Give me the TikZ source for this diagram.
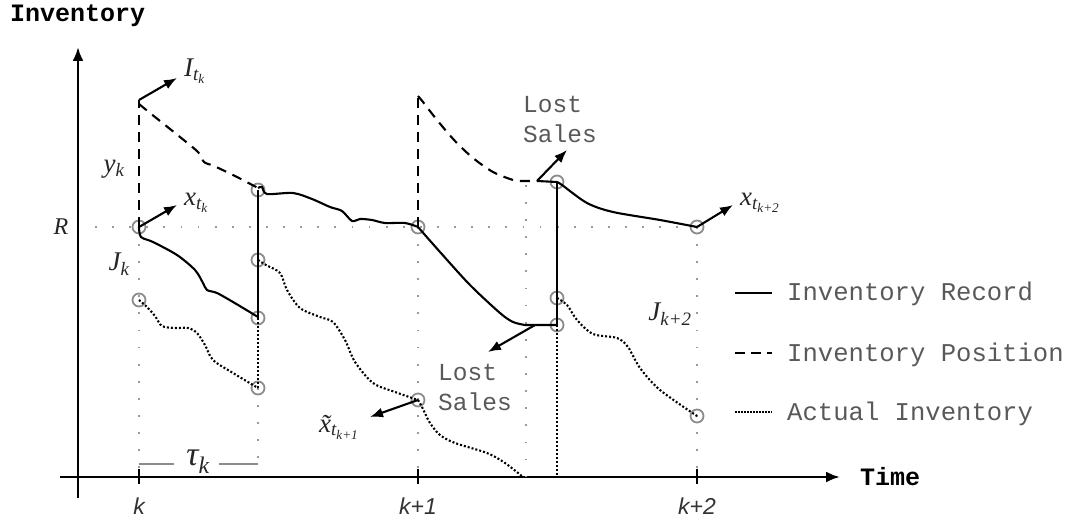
\documentclass[tikz,border=0pt]{standalone}
\usepackage{fontspec}
\usetikzlibrary{arrows.meta}
\newfontfamily\monofam{Liberation Mono}
\newfontfamily\lsansfam{Liberation Sans}
\newfontfamily\serfam{Liberation Serif}
\newcommand{\lsub}[1]{\textsubscript{#1}}
\begin{document}
\begin{tikzpicture}[x=1pt,y=-1pt,
  invrec/.style={line width=2.1pt, black},
  invpos/.style={line width=2.1pt, dash pattern=on 10pt off 7pt},
  invact/.style={line width=2.1pt, dash pattern=on 2pt off 2pt},
  guide/.style={black!40, line width=1.8pt, dash pattern=on 1.8pt off 15.3pt},
  ptc/.style={circle, draw=black!45, line width=1.8pt, minimum size=13pt, inner sep=0pt},
  labarrow/.style={-{Latex[length=13pt,width=10pt]}, line width=2.1pt},
  axisline/.style={line width=2.6pt, -{Latex[length=14pt,width=11pt]}},
  mlab/.style={font=\fontsize{27}{27}\selectfont\serfam\itshape, text=black!85, inner sep=0pt},
  ticklab/.style={font=\fontsize{23}{23}\selectfont\lsansfam\itshape, text=black!80, anchor=base, inner sep=0pt},
  graytxt/.style={font=\fontsize{24.5}{24.5}\selectfont\monofam, text=black!65, anchor=base west, inner sep=0pt},
  legtxt/.style={font=\fontsize{25.6}{25.6}\selectfont\monofam, text=black!65, anchor=base west, inner sep=0pt},
  boldtxt/.style={font=\fontsize{25}{25}\selectfont\monofam\bfseries, anchor=base west, inner sep=0pt}
]
\useasboundingbox (0,0) rectangle (1071,521);

% axes
\coordinate (ybot) at (78,498);
\coordinate (ytop) at (78,47);
\coordinate (xl) at (60,477);
\coordinate (xr) at (840,477);
\draw[axisline] (ybot) -- (ytop);
\draw[axisline] (xl) -- (xr);
\node[boldtxt] (tInv) at (10,22) {Inventory};
\node[boldtxt] (tTime) at (860,485) {Time};

% ticks
\foreach \xx/\nm in {139/tk, 418/tka, 697/tkb}{
  \coordinate (\nm a) at (\xx,469);
  \coordinate (\nm b) at (\xx,484);
  \draw[line width=2pt] (\nm a) -- (\nm b);
}
\node[ticklab] (lk) at (139,514) {k};
\node[ticklab] (lk1) at (418,514) {k+1};
\node[ticklab] (lk2) at (697,514) {k+2};

% named points
\node[ptc] (A) at (139,227) {};
\node[ptc] (B) at (258,190) {};
\node[ptc] (C) at (258,318) {};
\node[ptc] (D) at (258,260) {};
\node[ptc] (E) at (139,300) {};
\node[ptc] (F) at (258,388) {};
\node[ptc] (G) at (418,227) {};
\node[ptc] (M) at (418,400) {};
\node[ptc] (H) at (557,182) {};
\node[ptc] (I) at (557,325) {};
\node[ptc] (K) at (557,298) {};
\node[ptc] (J) at (697,227) {};
\node[ptc] (L) at (697,416) {};
\coordinate (Atop) at (139,100);
\coordinate (Gtop) at (418,96);
\coordinate (N) at (537,181);
\coordinate (P) at (535,325);
\coordinate (Q) at (523,477);
\coordinate (I0) at (557,477);

% guide lines
\coordinate (R0) at (95,227);
\coordinate (g1) at (139,477);
\coordinate (g2) at (258,462);
\coordinate (g3) at (418,477);
\coordinate (g4t) at (526,185);
\coordinate (g4) at (526,477);
\coordinate (g5) at (697,477);
\draw[guide] (R0) -- (J.center);
\draw[guide] (A.center) -- (g1);
\draw[guide] (F.center) -- (g2);
\draw[guide] (G.center) -- (g3);
\draw[guide] (g4t) -- (g4);
\draw[guide] (J.center) -- (g5);

% inventory position (dashed)
\draw[invpos] (A.center) -- (Atop);
\draw[invpos] plot[smooth, tension=0.5] coordinates {(139,104) (150,113) (175,133) (198,152) (204,162) (214,166) (235,176) (258,188)};
\draw[invpos] (G.center) -- (Gtop);
\draw[invpos] plot[smooth, tension=0.5] coordinates {(418,96) (423,102) (437,120) (455,141) (473,158) (493,172) (513,180) (522,181)} -- (N);

% inventory record (solid)
\draw[invrec] plot[smooth, tension=0.5] coordinates {(139,227) (141,237) (153,242) (177,255) (195,270) (203,283) (207,290) (217,293) (233,302) (258,317)};
\draw[invrec] (C.center) -- (B.center);
\draw[invrec] plot[smooth, tension=0.5] coordinates {(258,188) (262,187) (267,194) (293,193) (312,199) (330,207) (342,211) (352,221) (360,219) (372,220) (385,223) (405,223) (418,227)};
\draw[invrec] plot[smooth, tension=0.5] coordinates {(418,227) (440,252) (470,285) (500,313) (513,322) (525,325)} -- (I.center);
\draw[invrec] (N) -- (H.center);
\draw[invrec] (H.center) -- (I.center);
\draw[invrec] plot[smooth, tension=0.5] coordinates {(557,182) (562,185) (587,203) (613,212) (660,220) (697,227)};

% actual inventory (dotted)
\draw[invact] plot[smooth, tension=0.5] coordinates {(139,300) (147,307) (155,316) (162,326) (175,328) (188,328) (197,333) (205,345) (213,360) (233,373) (258,388)};
\draw[invact] (F.center) -- (D.center);
\draw[invact] plot[smooth, tension=0.5] coordinates {(258,260) (266,265) (280,273) (287,290) (300,308) (320,317) (333,322) (345,340) (355,362) (373,383) (395,392) (418,400)};
\draw[invact] plot[smooth, tension=0.5] coordinates {(418,400) (422,407) (430,423) (440,435) (455,443) (487,453) (505,463) (523,477)};
\draw[invact] (I.center) -- (I0);
\draw[invact] plot[smooth, tension=0.5] coordinates {(557,298) (567,305) (577,320) (593,334) (617,338) (628,347) (640,368) (660,390) (697,416)};

% label arrows
\coordinate (aI) at (177,78);
\coordinate (ax) at (177,205);
\coordinate (aLS1) at (567,150);
\coordinate (aLS2) at (488,352);
\coordinate (axt) at (370,417);
\coordinate (aX) at (733,205);
\draw[labarrow] (Atop) -- (aI);
\draw[labarrow] (A.center) -- (ax);
\draw[labarrow] (N) -- (aLS1);
\draw[labarrow] (P) -- (aLS2);
\draw[labarrow] (M.center) -- (axt);
\draw[labarrow] (J.center) -- (aX);

% labels
\node[mlab, anchor=west] (lI) at (184,71) {I\lsub{t\lsub{k}}};
\node[mlab, anchor=west] (lx) at (184,203) {x\lsub{t\lsub{k}}};
\node[mlab, font=\fontsize{24}{24}\selectfont\serfam\itshape] (lR) at (61,227) {R};
\node[mlab] (ly) at (114,169) {y\lsub{k}};
\node[mlab] (lJ) at (119,264) {J\lsub{k}};
\node[mlab] (lJ2) at (670,314) {J\lsub{k+2}};
\node[mlab] (lxt) at (339,427) {\~{x}\lsub{t\lsub{k+1}}};
\node[mlab, anchor=west] (lX) at (740,203) {x\lsub{t\lsub{k+2}}};
\node[mlab, font=\fontsize{34}{34}\selectfont\serfam\itshape] (ltau) at (198,462) {τ\lsub{k}};
\coordinate (tl1) at (139,464);
\coordinate (tl1b) at (174,464);
\coordinate (tl2b) at (219,464);
\coordinate (tl2) at (258,464);
\draw[black!45, line width=1.5pt] (tl1) -- (tl1b);
\draw[black!45, line width=1.5pt] (tl2b) -- (tl2);

\node[graytxt] (ls1a) at (523,113) {Lost};
\node[graytxt] (ls1b) at (523,143) {Sales};
\node[graytxt] (ls2a) at (438,380) {Lost};
\node[graytxt] (ls2b) at (438,410) {Sales};

% legend
\coordinate (lg1a) at (735,293); \coordinate (lg1b) at (772,293);
\coordinate (lg2a) at (735,353); \coordinate (lg2b) at (772,353);
\coordinate (lg3a) at (735,412); \coordinate (lg3b) at (772,412);
\draw[invrec] (lg1a) -- (lg1b);
\draw[line width=2pt, dash pattern=on 10pt off 6pt] (lg2a) -- (lg2b);
\draw[line width=1.3pt, dash pattern=on 1.5pt off 1.5pt] (lg3a) -- (lg3b);
\node[legtxt] (lt1) at (787,301) {Inventory Record};
\node[legtxt] (lt2) at (787,361) {Inventory Position};
\node[legtxt] (lt3) at (787,420) {Actual Inventory};
\end{tikzpicture}
\end{document}
